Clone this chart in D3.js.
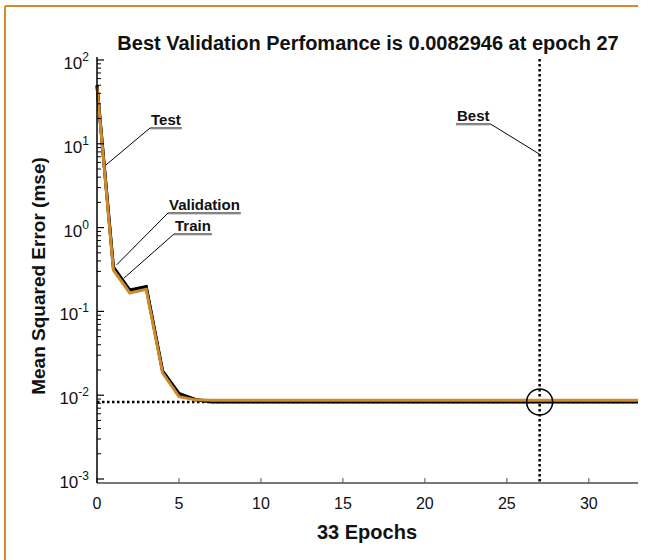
<!DOCTYPE html>
<html>
<head>
<meta charset="utf-8">
<title>Best Validation Performance</title>
<script src="https://cdn.jsdelivr.net/npm/d3@7"></script>
<style>
  body { margin: 0; background: #fff; }
  svg { display: block; font-family: "Liberation Sans", Arial, sans-serif; }
</style>
</head>
<body>
<svg id="chart" width="646" height="560"></svg>
<script>
// epochs 0..33
var epochs = d3.range(0, 34);
var train = [48, 0.31, 0.166, 0.183, 0.0184, 0.0096, 0.0088, 0.0087, 0.0087, 0.0087,
             0.0087, 0.0087, 0.0087, 0.0087, 0.0087, 0.0087, 0.0087, 0.0087, 0.0087, 0.0087,
             0.0087, 0.0087, 0.0087, 0.0087, 0.0087, 0.0087, 0.0087, 0.0087, 0.0087, 0.0087,
             0.0087, 0.0087, 0.0087, 0.0087];
var validation = [50, 0.33, 0.176, 0.195, 0.0192, 0.0103, 0.0088, 0.0083, 0.0083, 0.0083,
                  0.0083, 0.0083, 0.0083, 0.0083, 0.0083, 0.0083, 0.0083, 0.0083, 0.0083, 0.0083,
                  0.0083, 0.0083, 0.0083, 0.0083, 0.0083, 0.0083, 0.0083, 0.0082946, 0.0083, 0.0083,
                  0.0083, 0.0083, 0.0083, 0.0083];
var test = [49, 0.34, 0.18, 0.198, 0.0195, 0.0105, 0.0089, 0.0084, 0.0084, 0.0084,
            0.0084, 0.0084, 0.0084, 0.0084, 0.0084, 0.0084, 0.0084, 0.0084, 0.0084, 0.0084,
            0.0084, 0.0084, 0.0084, 0.0084, 0.0084, 0.0084, 0.0084, 0.0084, 0.0084, 0.0084,
            0.0084, 0.0084, 0.0084, 0.0084];
var bestEpoch = 27, bestValue = 0.0082946;
var xTicks = [0, 5, 10, 15, 20, 25, 30];
var yTicks = [1e-3, 1e-2, 1e-1, 1, 10, 100];
var yExp = ["-3", "-2", "-1", "0", "1", "2"];

var orange = "#cf8a2c";
var svg = d3.select("#chart");

// frame
svg.append("line").attr("x1", 5).attr("y1", 6).attr("x2", 638).attr("y2", 6)
   .attr("stroke", "#d4892c").attr("stroke-width", 2);
svg.append("line").attr("x1", 5).attr("y1", 6).attr("x2", 5).attr("y2", 560)
   .attr("stroke", "#d4892c").attr("stroke-width", 2);

var x = d3.scaleLinear().domain([0, 33]).range([97, 638]);
var y = d3.scaleLog().domain([1e-3, 100]).range([479, 60]);
var yBottom = 483;

var g = svg.append("g");

// best dotted lines
g.append("line").attr("x1", x(0)).attr("x2", x(33))
 .attr("y1", y(bestValue)).attr("y2", y(bestValue))
 .attr("stroke", "#000").attr("stroke-width", 2.5).attr("stroke-dasharray", "2.5,2.5");
g.append("line").attr("x1", x(bestEpoch)).attr("x2", x(bestEpoch))
 .attr("y1", 59).attr("y2", yBottom)
 .attr("stroke", "#000").attr("stroke-width", 2.5).attr("stroke-dasharray", "2.5,2.5");

var line = function(vals) {
  return d3.line().x(function(d, i) { return x(epochs[i]); })
               .y(function(d) { return y(d); })(vals);
};
g.append("path").attr("d", line(test)).attr("fill", "none")
 .attr("stroke", "#000").attr("stroke-width", 3);
g.append("path").attr("d", line(validation)).attr("fill", "none")
 .attr("stroke", "#000").attr("stroke-width", 3);
g.append("path").attr("d", line(train)).attr("fill", "none")
 .attr("stroke", orange).attr("stroke-width", 3);

// best circle
g.append("circle").attr("cx", x(bestEpoch)).attr("cy", y(bestValue)).attr("r", 13)
 .attr("fill", "none").attr("stroke", "#000").attr("stroke-width", 1.5);

// x axis
var xa = svg.append("g");
xa.append("line").attr("x1", 97).attr("x2", 638).attr("y1", yBottom).attr("y2", yBottom)
  .attr("stroke", "#777").attr("stroke-width", 2);
xa.selectAll("line.tk").data(xTicks).enter().append("line").attr("class", "tk")
  .attr("x1", function(d) { return x(d); }).attr("x2", function(d) { return x(d); })
  .attr("y1", yBottom).attr("y2", yBottom - 5).attr("stroke", "#555").attr("stroke-width", 1);
xa.selectAll("text").data(xTicks).enter().append("text")
  .attr("x", function(d) { return x(d); }).attr("y", 509)
  .attr("text-anchor", "middle").attr("font-size", 16).attr("fill", "#111")
  .text(function(d) { return d; });

// y axis
var ya = svg.append("g");
ya.append("line").attr("x1", 97).attr("x2", 97).attr("y1", 57).attr("y2", yBottom)
  .attr("stroke", "#000").attr("stroke-width", 1.5);
var minor = [];
yTicks.slice(0, -1).forEach(function(t) {
  for (var k = 2; k <= 9; k++) minor.push(t * k);
});
ya.selectAll("line.mn").data(minor).enter().append("line").attr("class", "mn")
  .attr("x1", 97).attr("x2", 101)
  .attr("y1", function(d) { return y(d); }).attr("y2", function(d) { return y(d); })
  .attr("stroke", "#000").attr("stroke-width", 1);
ya.selectAll("line.mj").data(yTicks).enter().append("line").attr("class", "mj")
  .attr("x1", 97).attr("x2", 104)
  .attr("y1", function(d) { return y(d); }).attr("y2", function(d) { return y(d); })
  .attr("stroke", "#000").attr("stroke-width", 1.2);
var lbl = ya.selectAll("text").data(yTicks).enter().append("text")
  .attr("x", 89).attr("y", function(d) { return y(d) + 9; })
  .attr("text-anchor", "end").attr("font-size", 17).attr("fill", "#111");
lbl.append("tspan").text("10");
lbl.append("tspan").attr("dy", -8).attr("font-size", 12)
   .text(function(d, i) { return yExp[i]; });

// titles
svg.append("text").attr("x", 368).attr("y", 50).attr("text-anchor", "middle")
   .attr("font-size", 20).attr("font-weight", "bold").attr("fill", "#111")
   .text("Best Validation Perfomance is 0.0082946 at epoch 27");
svg.append("text").attr("x", 367).attr("y", 539).attr("text-anchor", "middle")
   .attr("font-size", 20).attr("font-weight", "bold").attr("fill", "#111")
   .text("33 Epochs");
svg.append("text").attr("transform", "translate(45,276) rotate(-90)")
   .attr("text-anchor", "middle")
   .attr("font-size", 19).attr("font-weight", "bold").attr("fill", "#111")
   .text("Mean Squared Error (mse)");

// callouts
var notes = [
  { label: "Test", tx: 151, ty: 125, ex: 0.55, ev: 5.6, fromRight: false },
  { label: "Validation", tx: 169, ty: 210, ex: 1.2, ev: 0.36, fromRight: false },
  { label: "Train", tx: 175, ty: 231, ex: 1.65, ev: 0.25, fromRight: false },
  { label: "Best", tx: 457, ty: 121, ex: bestEpoch, ev: 7.5, fromRight: true }
];
notes.forEach(function(n) {
  var t = svg.append("text").attr("x", n.tx).attr("y", n.ty)
    .attr("font-size", 15).attr("font-weight", "bold").attr("fill", "#111").text(n.label);
  var w = t.node().getComputedTextLength();
  svg.append("line").attr("x1", n.tx - 1).attr("x2", n.tx + w + 1)
     .attr("y1", n.ty + 3).attr("y2", n.ty + 3).attr("stroke", "#000").attr("stroke-width", 1);
  svg.append("line").attr("x1", n.tx - 1).attr("x2", n.tx + w + 1)
     .attr("y1", n.ty + 4.3).attr("y2", n.ty + 4.3).attr("stroke", "#bbb").attr("stroke-width", 0.8);
  var sx = n.fromRight ? n.tx + w + 1 : n.tx - 1;
  svg.append("line").attr("x1", sx).attr("y1", n.ty + 3)
     .attr("x2", x(n.ex)).attr("y2", y(n.ev)).attr("stroke", "#000").attr("stroke-width", 1);
});
</script>
</body>
</html>
